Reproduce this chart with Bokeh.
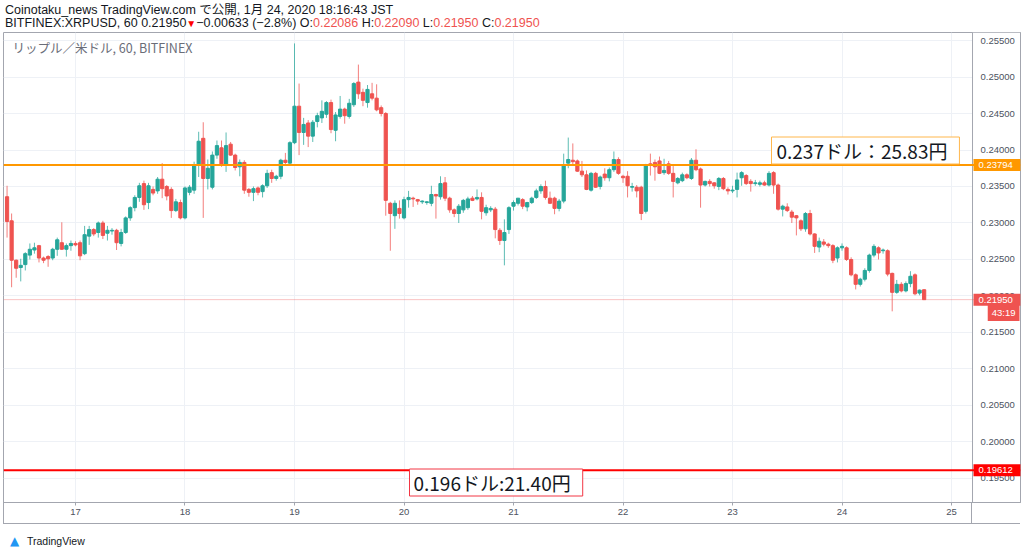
import pandas as pd
from bokeh.plotting import figure
from bokeh.layouts import column
from bokeh.models import (Range1d, Span, Label, FixedTicker, DatetimeTickFormatter, Div,
                          NumeralTickFormatter, SingleIntervalTicker, ColumnDataSource, BoxAnnotation)
from bokeh.embed import file_html
from bokeh.resources import INLINE

# ---------------- data (hourly XRP/USD, Bitfinex, JST) ----------------
start_time = "2020-01-16 09:00"
opens = [
    0.2336, 0.2303, 0.2249, 0.2239, 0.2243, 0.2256, 0.2263, 0.2269, 0.2252, 0.2254,
    0.2252, 0.2264, 0.2273, 0.2264, 0.2269, 0.2272, 0.2273, 0.2258, 0.2282, 0.2291,
    0.2287, 0.2300, 0.2286, 0.2289, 0.2290, 0.2272, 0.2287,
    0.2307, 0.2321, 0.2335, 0.2354, 0.2328, 0.2346, 0.2344, 0.2360, 0.2350, 0.2346,
    0.2317, 0.2328, 0.2307, 0.2342, 0.2345, 0.2379, 0.2416, 0.2361, 0.2349, 0.2393,
    0.2403, 0.2380, 0.2408, 0.2393, 0.2377, 0.2383,
    0.2346, 0.2342, 0.2348, 0.2343, 0.2351, 0.2369, 0.2361, 0.2364, 0.2386, 0.2382,
    0.2410, 0.2460, 0.2424, 0.2437, 0.2419, 0.2439, 0.2444, 0.2449, 0.2465, 0.2427,
    0.2446, 0.2456, 0.2446, 0.2462, 0.2493, 0.2479,
    0.2465, 0.2477, 0.2471, 0.2458, 0.2450, 0.2327, 0.2310, 0.2320, 0.2307, 0.2332,
    0.2334, 0.2332, 0.2329, 0.2328, 0.2327, 0.2339, 0.2336, 0.2355, 0.2334, 0.2318,
    0.2313, 0.2318, 0.2321, 0.2334, 0.2333, 0.2335,
    0.2314, 0.2318, 0.2319, 0.2290, 0.2276, 0.2291, 0.2323, 0.2327, 0.2332, 0.2322,
    0.2328, 0.2335, 0.2344, 0.2350, 0.2334, 0.2334, 0.2320, 0.2330, 0.2382, 0.2386,
    0.2385, 0.2371, 0.2366, 0.2345, 0.2368, 0.2350, 0.2367,
    0.2362, 0.2373, 0.2387, 0.2364, 0.2364, 0.2349, 0.2349, 0.2349, 0.2316, 0.2381,
    0.2383, 0.2385, 0.2369, 0.2381, 0.2368, 0.2355, 0.2358, 0.2366, 0.2361, 0.2386,
    0.2374, 0.2352, 0.2357, 0.2355, 0.2350, 0.2361,
    0.2346, 0.2344, 0.2346, 0.2362, 0.2365, 0.2357, 0.2354, 0.2353, 0.2355, 0.2352,
    0.2369, 0.2352, 0.2319, 0.2322, 0.2315, 0.2310, 0.2303, 0.2292, 0.2313, 0.2285,
    0.2267, 0.2274, 0.2271, 0.2269, 0.2252, 0.2266, 0.2266,
    0.2250, 0.2229, 0.2216, 0.2223, 0.2235, 0.2256, 0.2266, 0.2262, 0.2262, 0.2231,
    0.2205, 0.2216, 0.2207, 0.2217, 0.2229, 0.2204, 0.22086,
]
highs = [
    0.2351, 0.2313, 0.2250, 0.2251, 0.2260, 0.2272, 0.2273, 0.2270, 0.2254, 0.2256,
    0.2266, 0.2280, 0.2301, 0.2272, 0.2276, 0.2275, 0.2276, 0.2296, 0.2296, 0.2293,
    0.2302, 0.2303, 0.2296, 0.2293, 0.2292, 0.2292, 0.2309,
    0.2323, 0.2338, 0.2355, 0.2358, 0.2355, 0.2350, 0.2363, 0.2382, 0.2352, 0.2349,
    0.2333, 0.2332, 0.2350, 0.2352, 0.2384, 0.2425, 0.2438, 0.2387, 0.2398, 0.2413,
    0.2413, 0.2424, 0.2411, 0.2395, 0.2387, 0.2386,
    0.2348, 0.2350, 0.2350, 0.2353, 0.2373, 0.2373, 0.2366, 0.2388, 0.2396, 0.2412,
    0.2546, 0.2491, 0.2444, 0.2441, 0.2441, 0.2451, 0.2468, 0.2467, 0.2469, 0.2452,
    0.2474, 0.2458, 0.2470, 0.2493, 0.2517, 0.2484,
    0.2489, 0.2492, 0.2490, 0.2461, 0.2452, 0.2329, 0.2331, 0.2331, 0.2336, 0.2344,
    0.2336, 0.2333, 0.2331, 0.2330, 0.2351, 0.2340, 0.2364, 0.2363, 0.2336, 0.2320,
    0.2326, 0.2333, 0.2336, 0.2337, 0.2346, 0.2342,
    0.2325, 0.2323, 0.2322, 0.2293, 0.2305, 0.2323, 0.2331, 0.2334, 0.2334, 0.2329,
    0.2336, 0.2347, 0.2353, 0.2358, 0.2343, 0.2336, 0.2333, 0.2395, 0.2417, 0.2409,
    0.2387, 0.2385, 0.2372, 0.2370, 0.2370, 0.2365, 0.2375,
    0.2376, 0.2398, 0.2390, 0.2366, 0.2371, 0.2355, 0.2352, 0.2351, 0.2381, 0.2395,
    0.2387, 0.2391, 0.2388, 0.2385, 0.2378, 0.2363, 0.2369, 0.2368, 0.2389, 0.2401,
    0.2376, 0.2358, 0.2360, 0.2356, 0.2363, 0.2363,
    0.2349, 0.2351, 0.2369, 0.2371, 0.2367, 0.2360, 0.2359, 0.2358, 0.2358, 0.2371,
    0.2371, 0.2354, 0.2325, 0.2327, 0.2318, 0.2311, 0.2305, 0.2315, 0.2318, 0.2286,
    0.2280, 0.2278, 0.2273, 0.2271, 0.2268, 0.2272, 0.2268,
    0.2253, 0.2231, 0.2225, 0.2238, 0.2258, 0.2271, 0.2268, 0.2265, 0.2264, 0.2232,
    0.2222, 0.2219, 0.2220, 0.2234, 0.2231, 0.2209, 0.22090,
]
lows = [
    0.2280, 0.2212, 0.2225, 0.2220, 0.2235, 0.2250, 0.2258, 0.2246, 0.2245, 0.2240,
    0.2249, 0.2255, 0.2263, 0.2254, 0.2262, 0.2268, 0.2249, 0.2256, 0.2270, 0.2282,
    0.2280, 0.2278, 0.2276, 0.2284, 0.2263, 0.2268, 0.2285,
    0.2303, 0.2316, 0.2329, 0.2318, 0.2319, 0.2338, 0.2340, 0.2334, 0.2331, 0.2307,
    0.2315, 0.2305, 0.2305, 0.2338, 0.2340, 0.2363, 0.2307, 0.2346, 0.2346, 0.2388,
    0.2377, 0.2370, 0.2392, 0.2372, 0.2364, 0.2340,
    0.2336, 0.2330, 0.2338, 0.2335, 0.2348, 0.2355, 0.2358, 0.2360, 0.2380, 0.2381,
    0.2408, 0.2393, 0.2407, 0.2404, 0.2411, 0.2431, 0.2437, 0.2444, 0.2423, 0.2412,
    0.2443, 0.2436, 0.2443, 0.2459, 0.2470, 0.2460,
    0.2458, 0.2468, 0.2453, 0.2446, 0.2310, 0.2262, 0.2292, 0.2306, 0.2305, 0.2321,
    0.2322, 0.2325, 0.2326, 0.2325, 0.2323, 0.2306, 0.2332, 0.2330, 0.2314, 0.2308,
    0.2300, 0.2314, 0.2318, 0.2330, 0.2331, 0.2305,
    0.2310, 0.2315, 0.2279, 0.2270, 0.2242, 0.2285, 0.2317, 0.2324, 0.2319, 0.2316,
    0.2326, 0.2333, 0.2340, 0.2332, 0.2326, 0.2312, 0.2316, 0.2327, 0.2375, 0.2380,
    0.2370, 0.2363, 0.2345, 0.2343, 0.2348, 0.2346, 0.2358,
    0.2357, 0.2370, 0.2366, 0.2355, 0.2335, 0.2343, 0.2335, 0.2304, 0.2313, 0.2365,
    0.2358, 0.2367, 0.2366, 0.2366, 0.2335, 0.2353, 0.2356, 0.2360, 0.2359, 0.2371,
    0.2321, 0.2350, 0.2350, 0.2347, 0.2345, 0.2345,
    0.2339, 0.2341, 0.2335, 0.2351, 0.2352, 0.2343, 0.2351, 0.2350, 0.2351, 0.2350,
    0.2340, 0.2317, 0.2309, 0.2315, 0.2300, 0.2283, 0.2289, 0.2288, 0.2283, 0.2259,
    0.2260, 0.2268, 0.2266, 0.2245, 0.2246, 0.2262, 0.2248,
    0.2227, 0.2209, 0.2213, 0.2220, 0.2232, 0.2253, 0.2250, 0.2258, 0.2227, 0.2179,
    0.2203, 0.2205, 0.2205, 0.2212, 0.2201, 0.2201, 0.21950,
]
closes = [
    0.2302, 0.2249, 0.2238, 0.2242, 0.2258, 0.2264, 0.2266, 0.2252, 0.2249, 0.2251,
    0.2264, 0.2277, 0.2264, 0.2269, 0.2272, 0.2270, 0.2255, 0.2284, 0.2291, 0.2285,
    0.2300, 0.2283, 0.2290, 0.2290, 0.2273, 0.2287, 0.2307,
    0.2321, 0.2335, 0.2351, 0.2325, 0.2351, 0.2341, 0.2360, 0.2347, 0.2337, 0.2317,
    0.2329, 0.2307, 0.2348, 0.2349, 0.2379, 0.2412, 0.2361, 0.2375, 0.2393, 0.2406,
    0.2380, 0.2406, 0.2393, 0.2376, 0.2383, 0.2345,
    0.2342, 0.2347, 0.2342, 0.2351, 0.2368, 0.2361, 0.2364, 0.2386, 0.2383, 0.2410,
    0.2460, 0.2424, 0.2435, 0.2419, 0.2438, 0.2447, 0.2453, 0.2465, 0.2428, 0.2448,
    0.2456, 0.2447, 0.2464, 0.2491, 0.2477, 0.2468,
    0.2483, 0.2471, 0.2455, 0.2450, 0.2331, 0.2313, 0.2327, 0.2313, 0.2332, 0.2335,
    0.2333, 0.2330, 0.2330, 0.2329, 0.2339, 0.2337, 0.2354, 0.2334, 0.2318, 0.2313,
    0.2323, 0.2331, 0.2333, 0.2331, 0.2335, 0.2316,
    0.2321, 0.2320, 0.2291, 0.2276, 0.2287, 0.2321, 0.2328, 0.2334, 0.2323, 0.2328,
    0.2334, 0.2344, 0.2350, 0.2335, 0.2327, 0.2320, 0.2330, 0.2379, 0.2387, 0.2384,
    0.2371, 0.2366, 0.2346, 0.2368, 0.2349, 0.2363, 0.2362,
    0.2373, 0.2387, 0.2368, 0.2362, 0.2351, 0.2350, 0.2344, 0.2313, 0.2379, 0.2380,
    0.2377, 0.2368, 0.2372, 0.2368, 0.2357, 0.2361, 0.2366, 0.2362, 0.2386, 0.2373,
    0.2352, 0.2357, 0.2354, 0.2351, 0.2361, 0.2347,
    0.2344, 0.2345, 0.2359, 0.2369, 0.2354, 0.2354, 0.2355, 0.2355, 0.2352, 0.2368,
    0.2352, 0.2319, 0.2323, 0.2317, 0.2308, 0.2307, 0.2292, 0.2313, 0.2285, 0.2268,
    0.2275, 0.2271, 0.2269, 0.2249, 0.2266, 0.2268, 0.2250,
    0.2229, 0.2216, 0.2223, 0.2235, 0.2256, 0.2268, 0.2259, 0.2263, 0.2230, 0.2205,
    0.2216, 0.2207, 0.2217, 0.2227, 0.2203, 0.2208, 0.21950,
]
assert len(opens) == len(highs) == len(lows) == len(closes) == 202

day_ticks = [17, 18, 19, 20, 21, 22, 23, 24, 25]
last_price = 0.21950
orange_level = 0.23794
red_level = 0.19612
orange_note = "0.237ドル：25.83円"
red_note = "0.196ドル:21.40円"
countdown = "43:19"
symbol_text = "リップル／米ドル, 60, BITFINEX"
header_line1 = "Coinotaku_news TradingView.com で公開, 1月 24, 2020 18:16:43 JST"
header_prefix = "BITFINEX:XRPUSD, 60 0.21950"
header_change = "−0.00633 (−2.8%)"
ohlc_names = ["O", "H", "L", "C"]
ohlc_values = ["0.22086", "0.22090", "0.21950", "0.21950"]

GREEN = "#26a69a"
RED = "#ef5350"
BORDER = "#a3a6af"

# ---------------- source ----------------
times = pd.date_range(start_time, periods=len(closes), freq="h")
colors = [GREEN if c >= o else RED for o, c in zip(opens, closes)]
src = ColumnDataSource(dict(
    t=times, o=opens, h=highs, l=lows, c=closes,
    top=[max(o, c) for o, c in zip(opens, closes)],
    bottom=[min(o, c) for o, c in zip(opens, closes)],
    color=colors,
))

base = pd.Timestamp("2020-01-16")
epoch = pd.Timestamp("1970-01-01")


def ms(ts):
    return (ts - epoch).total_seconds() * 1000


x_start = base + pd.Timedelta(days=0.3425)
x_end = base + pd.Timedelta(days=9.630)
strip_x = ms(base + pd.Timedelta(days=9.1918))   # boundary of price-scale strip

p = figure(width=1024, height=492, x_axis_type="datetime", y_axis_location="right",
           x_range=Range1d(x_start, x_end), y_range=Range1d(0.191712, 0.256096),
           output_backend="svg", toolbar_location=None,
           min_border_left=3, min_border_right=4, min_border_top=1, min_border_bottom=21)
p.background_fill_color = "white"
p.border_fill_color = "white"
p.outline_line_color = BORDER

p.xgrid.grid_line_color = "#eef1f6"
p.ygrid.grid_line_color = "#eef1f6"

# y axis (labels drawn inward, inside the price-scale strip)
yax = p.yaxis[0]
yax.ticker = SingleIntervalTicker(interval=0.005, num_minor_ticks=0)
yax.formatter = NumeralTickFormatter(format="0.00000")
yax.axis_line_color = BORDER
yax.major_tick_line_color = None
yax.minor_tick_line_color = None
yax.major_tick_in = 0
yax.major_tick_out = 0
yax.major_label_text_font = "Liberation Sans"
yax.major_label_text_font_size = "9.5px"
yax.major_label_text_color = "#4c525e"
yax.major_label_standoff = -40

# x axis
xax = p.xaxis[0]
xax.ticker = FixedTicker(ticks=[ms(pd.Timestamp(f"2020-01-{d}")) for d in day_ticks])
xax.formatter = DatetimeTickFormatter(days="%d", hours="%d", hourmin="%d", months="%d")
xax.axis_line_color = BORDER
xax.major_tick_line_color = BORDER
xax.minor_tick_line_color = None
xax.major_tick_in = 0
xax.major_tick_out = 3
xax.major_label_standoff = 3
xax.major_label_text_font = "Liberation Sans"
xax.major_label_text_font_size = "9.5px"
xax.major_label_text_color = "#4c525e"

# white price-scale strip (hides grid there) and its separator line
p.add_layout(BoxAnnotation(left=strip_x, fill_color="white", fill_alpha=1.0,
                           line_alpha=0, level="underlay"))
p.add_layout(Span(location=strip_x, dimension="height", line_color=BORDER, line_width=1))

# ---------------- candles ----------------
bar_w = 0.7 * 3600 * 1000
p.segment(x0="t", y0="l", x1="t", y1="h", source=src, line_color="color", line_alpha=0.75, line_width=1)
p.vbar(x="t", width=bar_w, top="top", bottom="bottom", source=src,
       fill_color="color", line_color="color", line_width=1)

# ---------------- horizontal levels ----------------
p.add_layout(Span(location=last_price, dimension="width", line_color=RED, line_alpha=0.35, line_width=1))
p.add_layout(Span(location=orange_level, dimension="width", line_color="#ff9800", line_width=2))
p.add_layout(Span(location=red_level, dimension="width", line_color="#ff0000", line_width=2))


def lbl(padding=None, **kw):
    L = Label(**kw)
    if padding is not None:
        try:
            L.padding = dict(left=padding[0], right=padding[1], top=padding[2], bottom=padding[3])
        except Exception:
            L.padding = padding[0]
    p.add_layout(L)
    return L


tag_style = dict(text_color="white", text_font="Liberation Sans", text_font_size="9.5px",
                 text_baseline="middle")
lbl(x=970, y=orange_level, x_units="screen", y_units="data", text=f"{orange_level:.5f}",
    background_fill_color="#ff9800", padding=(5, 8, 3, 3), **tag_style)
lbl(x=970, y=last_price, x_units="screen", y_units="data", text=f"{last_price:.5f}",
    background_fill_color=RED, padding=(5, 8, 3, 3), **tag_style)
lbl(x=1016, y=190, x_units="screen", y_units="screen", text=countdown, text_align="right",
    background_fill_color=RED, padding=(4, 4, 3, 3), **tag_style)
lbl(x=970, y=red_level, x_units="screen", y_units="data", text=f"{red_level:.5f}",
    background_fill_color="#ff0000", padding=(5, 8, 3, 3), **tag_style)

# note boxes
lbl(x=768, y=0.23993, x_units="screen", y_units="data", text=orange_note,
    text_color="#131722", text_font="Noto Sans CJK JP", text_font_size="19px", text_baseline="middle",
    background_fill_color="white", border_line_color="#ffb74d", border_line_width=1,
    padding=(5, 12, 0, 0))
lbl(x=406, y=0.19445, x_units="screen", y_units="data", text=red_note,
    text_color="#131722", text_font="Noto Sans CJK JP", text_font_size="19px", text_baseline="middle",
    background_fill_color="white", border_line_color="#f23645", border_line_width=1,
    padding=(4, 12, 0, 0))

# symbol text inside the pane
lbl(x=9, y=455, x_units="screen", y_units="screen", text=symbol_text,
    text_color="#6a6d78", text_font="Noto Sans CJK JP", text_font_size="12.5px", text_baseline="middle")

# ---------------- header / footer ----------------
ohlc_html = " ".join(f'{n}:<span style="color:{RED}">{v}</span>' for n, v in zip(ohlc_names, ohlc_values))
header_html = (
    '<div style="font-family:\'Liberation Sans\',\'Noto Sans CJK JP\',sans-serif;font-size:12.5px;'
    'line-height:13px;color:#131722;white-space:nowrap;padding:4px 0 0 5px;">'
    f'{header_line1}<br>'
    f'{header_prefix}<span style="color:#ff0000;font-size:10px">▼</span>{header_change} {ohlc_html}'
    '</div>'
)
header = Div(text=header_html, width=1024, height=31, margin=(0, 0, 0, 0))

footer_html = (
    f'<div style="position:relative;width:1017px;height:28px;margin-left:3px;border-top:1px solid {BORDER};">'
    f'<div style="position:absolute;left:968px;top:-22px;width:1px;height:22px;background:{BORDER};"></div>'
    f'<div style="position:absolute;left:0px;top:-22px;width:1px;height:22px;background:{BORDER};"></div>'
    '<span style="position:absolute;left:7px;top:9px;color:#2196f3;font-size:12px;'
    'font-family:\'DejaVu Sans\',sans-serif;">▲</span>'
    '<span style="position:absolute;left:24px;top:10px;color:#131722;font-size:10.5px;'
    'font-family:\'Liberation Sans\',sans-serif;">TradingView</span>'
    '</div>'
)
footer = Div(text=footer_html, width=1024, height=29, margin=(0, 0, 0, 0))

layout = column(header, p, footer, spacing=0)
open("out.html", "w").write(file_html(layout, INLINE))
